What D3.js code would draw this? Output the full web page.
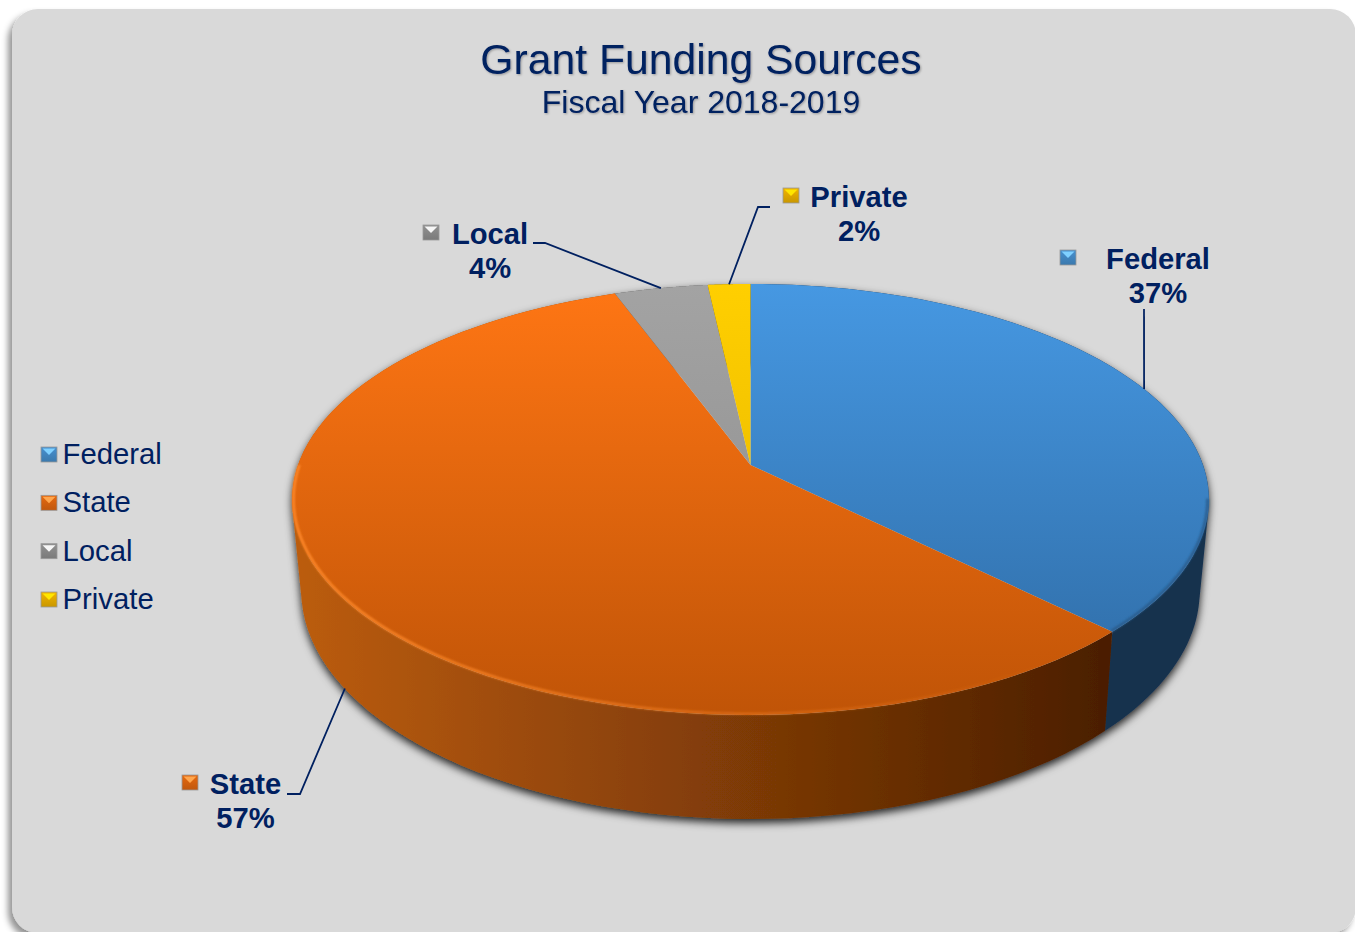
<!DOCTYPE html>
<html>
<head>
<meta charset="utf-8">
<script src="https://cdn.jsdelivr.net/npm/d3@7"></script>
<style>
  html, body { margin: 0; padding: 0; background: #fff; overflow: hidden; }
  text { font-family: "Liberation Sans", Arial, sans-serif; fill: #002060; }
</style>
</head>
<body>
<div class="pie-holder"></div>
<script>
// Values (shown rounded on the labels)
const categories = ["Federal", "State", "Local", "Private"];
const shares = [37.45, 56.95, 3.85, 1.75];

const width = 1355;
const height = 932;

// Perspective of the pie: front edge sits further from the hub than the back edge
const hub = { x: 750.5, y: 465 };
const radiusX = 452.5;
const radiusY = 210;
const tilt = 0.16;
// Lower rim of the wall relative to the top rim
const wall = { sx: 0.98, sy: 1.06, drop: 89 };

const topColors = [["#4698e2", "#2e6aa3"], ["#ff7614", "#c05407"], ["#a3a3a3", "#8a8a8a"], ["#ffcf00", "#e0b000"]];
const wallColors = [["#16304e", "#16304e"], ["#bb5c0c", "#4c1f02"], ["#555555", "#444444"], ["#7f6600", "#6f5800"]];
const keyColors = [["#7fd0ff", "#4184bd"], ["#ffa64d", "#d2600f"], ["#f6f6f6", "#858585"], ["#ffe600", "#dca500"]];

// Layout of the data labels, by category
const labelLayout = [
  { x: 1158, y: 269, keyX: 1060, keyY: 250, leader: [[1144, 309]], endDx: 0, endDy: 0 },
  { x: 245.5, y: 794, keyX: 182, keyY: 775, leader: [[287, 794], [300, 794]], onWall: true, endDx: 3, endDy: 3 },
  { x: 490, y: 244, keyX: 423, keyY: 225, leader: [[533, 243], [545, 243]], endDx: 0, endDy: 0 },
  { x: 859, y: 207, keyX: 783, keyY: 188, leader: [[770, 207], [758, 207]], endDx: 0, endDy: 0 }
];

const svg = d3.select(".pie-holder").append("svg")
  .attr("width", width)
  .attr("height", height)
  .style("display", "block");

const defs = svg.append("defs");

const panelShadow = defs.append("filter").attr("id", "panel-shadow")
  .attr("x", "-5%").attr("y", "-5%").attr("width", "110%").attr("height", "110%");
panelShadow.append("feDropShadow")
  .attr("dx", -4).attr("dy", 5).attr("stdDeviation", 3)
  .attr("flood-color", "#000").attr("flood-opacity", 0.42);

const wallShadow = defs.append("filter").attr("id", "wall-shadow")
  .attr("x", "-5%").attr("y", "-5%").attr("width", "110%").attr("height", "110%");
wallShadow.append("feDropShadow")
  .attr("dx", 0).attr("dy", 4).attr("stdDeviation", 4)
  .attr("flood-color", "#000").attr("flood-opacity", 0.85);

const textShadow = defs.append("filter").attr("id", "text-shadow")
  .attr("x", "-5%").attr("y", "-20%").attr("width", "110%").attr("height", "140%");
textShadow.append("feDropShadow")
  .attr("dx", 1).attr("dy", 1).attr("stdDeviation", 0.8)
  .attr("flood-color", "#000").attr("flood-opacity", 0.3);

const rimBlur = defs.append("filter").attr("id", "rim-blur")
  .attr("x", "-5%").attr("y", "-5%").attr("width", "110%").attr("height", "110%");
rimBlur.append("feGaussianBlur").attr("stdDeviation", 1);

function addGradient(id, stops, x1, y1, x2, y2) {
  const g = defs.append("linearGradient").attr("id", id)
    .attr("gradientUnits", "userSpaceOnUse")
    .attr("x1", x1).attr("y1", y1).attr("x2", x2).attr("y2", y2);
  g.append("stop").attr("offset", 0).attr("stop-color", stops[0]);
  g.append("stop").attr("offset", 1).attr("stop-color", stops[1]);
  return g;
}

categories.forEach((c, i) => {
  addGradient("top" + i, topColors[i], 0, 284, 0, 715);
  addGradient("wall" + i, wallColors[i], i === 0 ? 1100 : 300, 0, i === 0 ? 1200 : 1100, 0);
  addGradient("key" + i, [d3.color(keyColors[i][1]).brighter(0.25), d3.color(keyColors[i][1]).darker(0.25)], 0, 0, 0, 1)
    .attr("gradientUnits", "objectBoundingBox");
});

// Rim highlight fades out towards the right of the pie
const rimFade = addGradient("rim-orange", ["#ff8a2c", "#ff8a2c"], 300, 0, 1050, 0);
rimFade.select("stop:last-child").attr("stop-opacity", 0);

// Panel
svg.append("rect")
  .attr("x", 12).attr("y", 9)
  .attr("width", 1344).attr("height", 924)
  .attr("rx", 26).attr("ry", 26)
  .attr("fill", "#d9d9d9")
  .attr("filter", "url(#panel-shadow)");

// Title
const title = svg.append("g").attr("filter", "url(#text-shadow)").attr("text-anchor", "middle");
title.append("text").attr("x", 701).attr("y", 74).style("font-size", "42.7px").text("Grant Funding Sources");
title.append("text").attr("x", 701).attr("y", 113).style("font-size", "32px").text("Fiscal Year 2018-2019");

// Slices
const slices = d3.pie().sort(null).value(d => d)(shares);

function topPoint(angle) {
  const u = Math.sin(angle);
  const v = -Math.cos(angle);
  const d = 1 - tilt * v;
  return [hub.x + radiusX * u / d, hub.y + radiusY * v / d];
}

function bottomPoint(angle) {
  const p = topPoint(angle);
  return [hub.x + (p[0] - hub.x) * wall.sx, hub.y + (p[1] - hub.y) * wall.sy + wall.drop];
}

function arcAngles(s) {
  return d3.range(0, 1.0001, 1 / 90).map(t => s.startAngle + (s.endAngle - s.startAngle) * t);
}

const line = d3.line();

// One path of small quads per slice, all wound the same way, so the wall
// stays filled where it folds round the left and right of the pie
function wallPath(s) {
  const a = arcAngles(s);
  return d3.pairs(a).map(([a0, a1]) => {
    const quad = [topPoint(a0), topPoint(a1), bottomPoint(a1), bottomPoint(a0)];
    if (d3.polygonArea(quad) < 0) quad.reverse();
    return line(quad) + "Z";
  }).join("");
}

// Walls go first, the top face covers whatever faces away
const walls = svg.append("g").attr("filter", "url(#wall-shadow)");
walls.selectAll("path")
  .data(slices)
  .join("path")
  .attr("d", wallPath)
  .attr("fill", (s, i) => "url(#wall" + i + ")");

svg.append("g").selectAll("path")
  .data(slices)
  .join("path")
  .attr("d", s => line([[hub.x, hub.y]].concat(arcAngles(s).map(topPoint))) + "Z")
  .attr("fill", (s, i) => "url(#top" + i + ")");

// Bevel along the front rim of the two big slices
const rimColors = ["#2a5c8c", "url(#rim-orange)"];
svg.append("g").attr("filter", "url(#rim-blur)").selectAll("path")
  .data(slices.slice(0, 2).map((s, i) => {
    const start = i === 0 ? Math.PI * 0.55 : s.startAngle;
    const end = i === 0 ? s.endAngle : Math.PI * 1.5;
    return { startAngle: start, endAngle: end };
  }))
  .join("path")
  .attr("d", s => line(arcAngles(s).map(a => {
    const p = topPoint(a);
    return [hub.x + (p[0] - hub.x) * 0.997, hub.y + (p[1] - hub.y) * 0.995];
  })))
  .attr("fill", "none")
  .attr("stroke", (s, i) => rimColors[i])
  .attr("stroke-width", 2.5);

// Bevelled key swatch used by the legend and the data labels
function drawKey(parent, x, y, i) {
  const g = parent.append("g").attr("transform", "translate(" + x + "," + y + ")");
  g.append("rect").attr("width", 16).attr("height", 15)
    .attr("fill", "url(#key" + i + ")")
    .attr("stroke", "#9a9a9a").attr("stroke-width", 0.8);
  g.append("path").attr("d", "M1.5,1.5 L14.5,1.5 L8,8 Z").attr("fill", keyColors[i][0]);
}

// Data labels and their leader lines
const labels = svg.append("g");
slices.forEach((s, i) => {
  const layout = labelLayout[i];
  const mid = (s.startAngle + s.endAngle) / 2;
  const end = layout.onWall ? bottomPoint(mid) : topPoint(mid);
  labels.append("path")
    .attr("d", line(layout.leader.concat([[end[0] + layout.endDx, end[1] + layout.endDy]])))
    .attr("fill", "none")
    .attr("stroke", "#002060")
    .attr("stroke-width", 1.8);
  drawKey(labels, layout.keyX, layout.keyY, i);
  const t = labels.append("text")
    .attr("text-anchor", "middle")
    .style("font-size", "29.2px")
    .style("font-weight", "bold");
  t.append("tspan").attr("x", layout.x).attr("y", layout.y).text(categories[i]);
  t.append("tspan").attr("x", layout.x).attr("y", layout.y + 33.5).text(Math.round(s.data) + "%");
});

// Legend
const legendY = d3.scalePoint().domain(categories).range([464, 609]);
categories.forEach((c, i) => {
  drawKey(svg, 41, legendY(c) - 17, i);
  svg.append("text").attr("x", 62.5).attr("y", legendY(c))
    .style("font-size", "29.3px")
    .text(c);
});
</script>
</body>
</html>
